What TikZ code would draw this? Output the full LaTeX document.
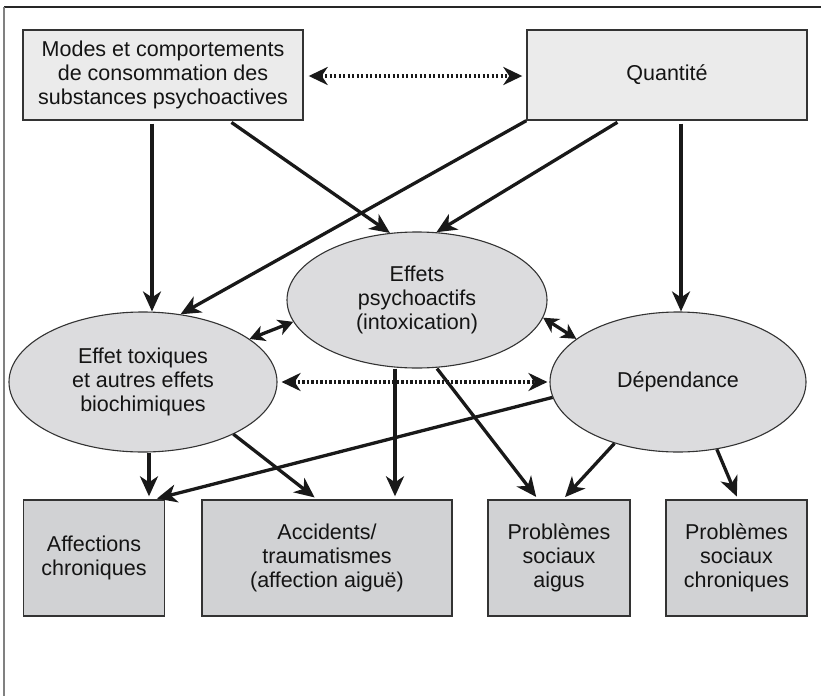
\documentclass[tikz,border=0pt]{standalone}
\usepackage{fontspec}
\setmainfont{Liberation Sans}
\usetikzlibrary{shapes.geometric,arrows.meta}
\definecolor{topfill}{HTML}{EBEBEB}
\definecolor{ellfill}{HTML}{DCDCDE}
\definecolor{botfill}{HTML}{D1D2D4}
\definecolor{edge}{HTML}{333333}
\begin{document}
\begin{tikzpicture}[x=1pt,y=-1pt,
  txt/.style={font=\fontsize{21.5}{24}\selectfont, align=center, text=black!92, inner sep=0pt},
  topbox/.style={txt, draw=edge, line width=1.4pt, fill=topfill, minimum width=280pt, minimum height=90pt},
  ell/.style={txt, ellipse, draw=edge, line width=1.1pt, fill=ellfill},
  botbox/.style={txt, draw=edge, line width=1.4pt, fill=botfill, minimum height=116pt},
  arr/.style={line width=3.3pt, black!90, -{Stealth[length=20pt,width=18pt,inset=6pt]}},
  darr/.style={line width=3.3pt, black!90, {Stealth[length=15pt,width=16pt,inset=4.5pt]}-{Stealth[length=15pt,width=16pt,inset=4.5pt]}},
  dotarr/.style={line width=3.5pt, black!90, dash pattern=on 2.3pt off 2.2pt, {Stealth[length=19pt,width=18pt,inset=6pt]}-{Stealth[length=19pt,width=18pt,inset=6pt]}}
]
\useasboundingbox (0,0) rectangle (821,696);
\coordinate (fTL) at (4,7);
\coordinate (fTR) at (821,7);
\coordinate (fBL) at (4,696);
\draw[line width=1.5pt, black!85] (fTL) -- (fTR);
\draw[line width=1.8pt, black!50] (fTL) -- (fBL);

\node[topbox] (mod) at (163,75) {Modes et comportements\\de consommation des\\substances psychoactives};
\node[topbox] (q) at (667,75) {Quantité};

\node[ell, minimum width=260pt, minimum height=136pt] (ep) at (417,300) {Effets\\psychoactifs\\(intoxication)};
\node[ell, minimum width=268pt, minimum height=140pt] (et) at (143,382) {Effet toxiques\\et autres effets\\biochimiques};
\node[ell, minimum width=256pt, minimum height=140pt] (dp) at (678,382) {Dépendance};

\node[botbox, minimum width=141pt] (aff) at (94,558) {Affections\\chroniques};
\node[botbox, minimum width=250pt] (acc) at (327,558) {Accidents/\\traumatismes\\(affection aiguë)};
\node[botbox, minimum width=142pt] (pa) at (559,558) {Problèmes\\sociaux\\aigus};
\node[botbox, minimum width=141pt] (pc) at (736.5,558) {Problèmes\\sociaux\\chroniques};

% top
\draw[dotarr, shorten <=5pt, shorten >=4pt] (mod.east) ++(0,1) coordinate (m1) (m1) -- (q.west |- m1);
\draw[arr, shorten <=3pt] ([xshift=-11pt]mod.south) -- ([xshift=9pt]et.north);
\draw[arr, shorten <=3pt] ([xshift=66pt]mod.south) -- (ep.112);
\draw[arr] (q.south west) -- (et.61);
\draw[arr, shorten <=3pt] ([xshift=-47pt]q.south) -- (ep.74);
\draw[arr, shorten <=3pt] ([xshift=14pt]q.south) -- ([xshift=3pt]dp.north);

% middle
\draw[darr] (ep.190) -- (et.22);
\draw[darr] (ep.-8) -- (dp.157);
\draw[dotarr, shorten <=4pt, shorten >=2pt] (et.east) -- (dp.west);

% bottom
\draw[arr, shorten >=3pt] ([xshift=6pt]et.south) -- ([xshift=55pt]aff.north);
\draw[arr, shorten >=3pt] (et.-30) -- ([xshift=-10pt]acc.north);
\draw[arr, shorten >=3pt] ([xshift=-22pt]ep.south) -- ([xshift=68pt]acc.north);
\draw[arr, shorten >=3pt] ([xshift=20pt]ep.south) -- ([xshift=-21pt]pa.north);
\draw[arr, shorten >=3pt] (dp.187) -- ([xshift=60pt]aff.north);
\draw[arr, shorten >=3pt] (dp.224) -- ([xshift=4pt]pa.north);
\draw[arr, shorten >=3pt] (dp.-60) -- ([xshift=1.5pt]pc.north);
\end{tikzpicture}
\end{document}
